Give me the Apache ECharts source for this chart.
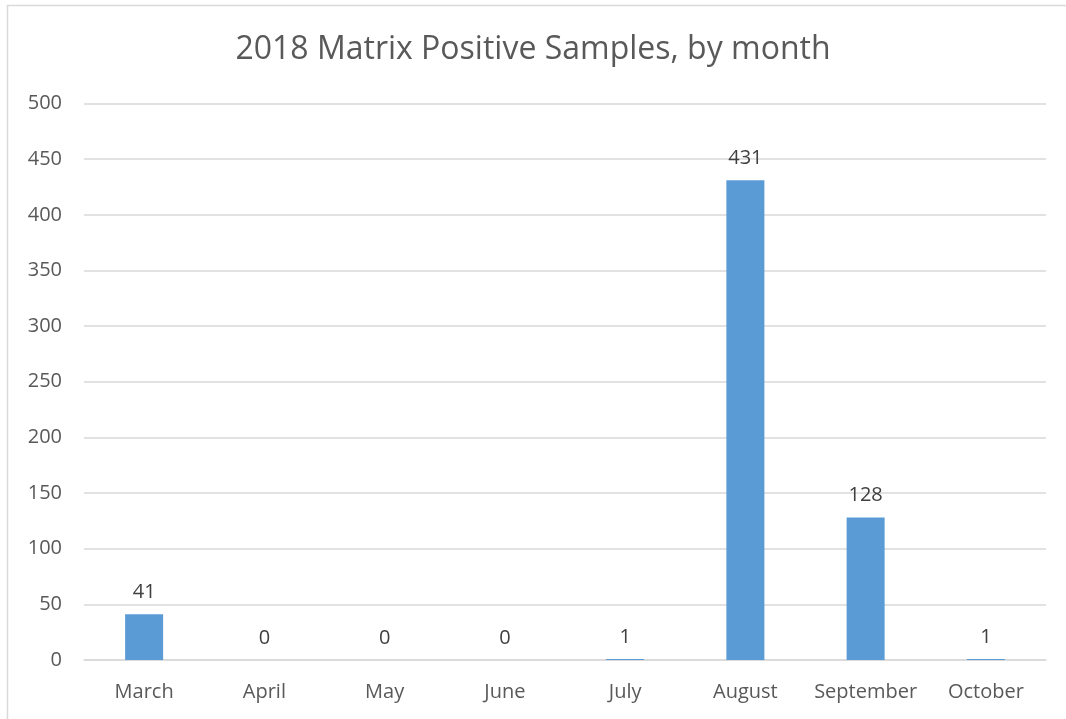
<!DOCTYPE html>
<html>
<head>
<meta charset="utf-8">
<script src="https://cdn.jsdelivr.net/npm/echarts@6/dist/echarts.min.js"></script>
<style>
  html, body { margin: 0; padding: 0; background: #fff; }
  #chart { width: 1066px; height: 719px; }
</style>
</head>
<body>
<div id="chart"></div>
<script>
// Monthly counts of matrix-positive samples, 2018
const months = ['March', 'April', 'May', 'June', 'July', 'August', 'September', 'October'];
const positives = [41, 0, 0, 0, 1, 431, 128, 1];
const yTicks = [0, 50, 100, 150, 200, 250, 300, 350, 400, 450, 500];

const FONT = 'Open Sans';
const chart = echarts.init(document.getElementById('chart'), null, { renderer: 'canvas' });

chart.setOption({
  animation: false,
  backgroundColor: '#ffffff',
  graphic: [{
    type: 'rect',
    shape: { x: 7.5, y: 5.5, width: 1100, height: 800 },
    style: { fill: 'none', stroke: '#d9d9d9', lineWidth: 1.5 },
    silent: true
  }],
  title: {
    text: '2018 Matrix Positive Samples, by month',
    left: 'center',
    top: 29,
    textStyle: { fontFamily: FONT, fontSize: 32, fontWeight: 'normal', color: '#595959' }
  },
  grid: { left: 84, right: 20, top: 103.5, bottom: 59, containLabel: false },
  xAxis: {
    type: 'category',
    data: months,
    axisLine: { show: true, lineStyle: { color: '#d9d9d9', width: 1.5 } },
    axisTick: { show: false },
    axisLabel: { interval: 0, fontFamily: FONT, fontSize: 20, color: '#595959', margin: 22 }
  },
  yAxis: {
    type: 'value',
    min: yTicks[0],
    max: yTicks[yTicks.length - 1],
    interval: yTicks[1] - yTicks[0],
    axisLine: { show: false },
    axisTick: { show: false },
    axisLabel: { fontFamily: FONT, fontSize: 20, color: '#595959', margin: 22 },
    splitLine: { lineStyle: { color: '#d9d9d9', width: 1.5 } }
  },
  series: [{
    type: 'bar',
    data: positives,
    barWidth: 38,
    itemStyle: { color: '#5b9bd5' },
    label: {
      show: true,
      position: 'top',
      distance: 12,
      fontFamily: FONT,
      fontSize: 20,
      color: '#404040'
    }
  }]
});
</script>
</body>
</html>
